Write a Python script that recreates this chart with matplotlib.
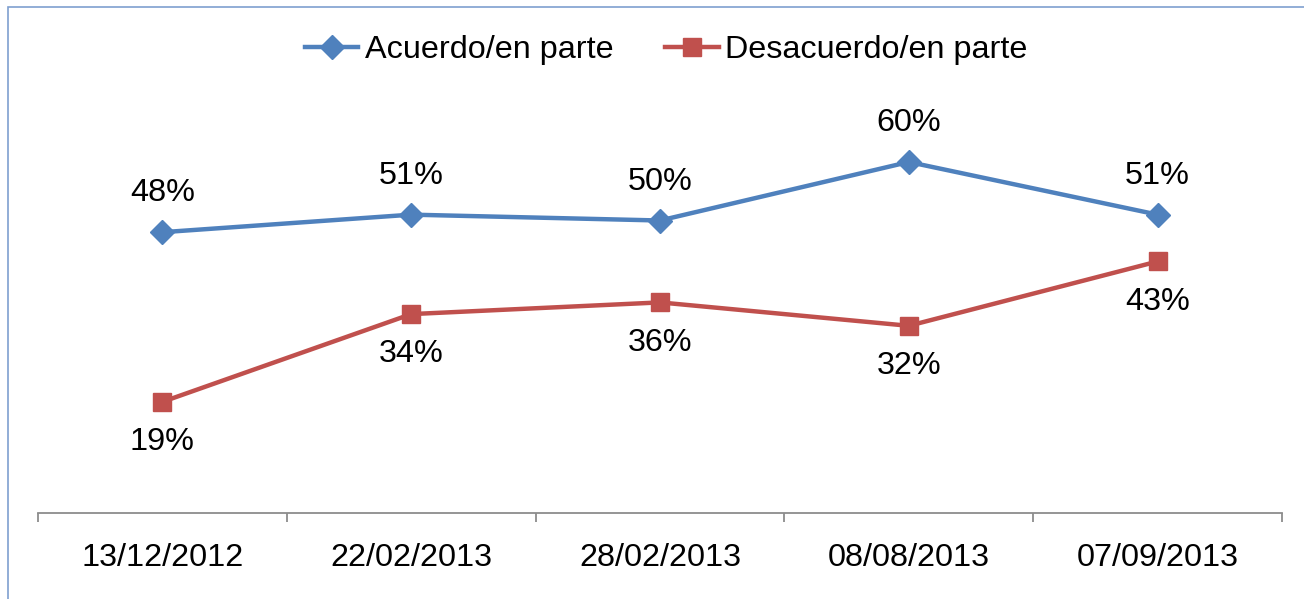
import matplotlib.pyplot as plt
import numpy as np
from matplotlib.patches import Rectangle

plt.rcParams['font.family'] = ['Liberation Sans', 'DejaVu Sans']

fechas = ['13/12/2012', '22/02/2013', '28/02/2013', '08/08/2013', '07/09/2013']
acuerdo = [48, 51, 50, 60, 51]
desacuerdo = [19, 34, 36, 32, 43]
series_names = ['Acuerdo/en parte', 'Desacuerdo/en parte']

blue = '#4F81BD'
red = '#C0504D'
fs = 23.3

fig = plt.figure(figsize=(13.04, 5.99), dpi=100)
ax = fig.add_axes([38 / 1304, 86 / 599, 1244 / 1304, 409.5 / 599])

# marco del grafico
fig.patches.append(Rectangle((8 / 1304, -0.1), 1.2, (599 - 7) / 599 + 0.1,
                             transform=fig.transFigure, fill=False,
                             edgecolor='#7F9FCF', linewidth=1.2))

x = np.arange(len(fechas))
ax.plot(x, acuerdo, color=blue, lw=3.2, marker='D', ms=12, label=series_names[0])
ax.plot(x, desacuerdo, color=red, lw=3.2, marker='s', ms=13, label=series_names[1])

for i in range(len(x)):
    ax.annotate(f'{acuerdo[i]}%', (x[i], acuerdo[i]), xytext=(0, 28),
                textcoords='offset points', ha='center', va='center', fontsize=fs)
    ax.annotate(f'{desacuerdo[i]}%', (x[i], desacuerdo[i]), xytext=(0, -29),
                textcoords='offset points', ha='center', va='center', fontsize=fs)

ax.set_xlim(-0.5, len(fechas) - 0.5)
ax.set_ylim(0, 70)
for s in ['top', 'right', 'left']:
    ax.spines[s].set_visible(False)
ax.spines['bottom'].set_color('#8C8C8C')
ax.spines['bottom'].set_linewidth(1.3)
ax.set_yticks([])

ax.set_xticks(np.arange(-0.5, len(fechas), 1))
ax.set_xticklabels([])
ax.tick_params(axis='x', which='major', direction='out', length=6.5, width=1.3, color='#8C8C8C')
ax.set_xticks(x, minor=True)
ax.set_xticklabels(fechas, minor=True, fontsize=fs)
ax.tick_params(axis='x', which='minor', length=0, pad=21.5)

ax.legend(loc='center', bbox_to_anchor=(0.505, (513 - 50) / 409.5),
          ncol=2, frameon=False, fontsize=fs, handlelength=1.65,
          handletextpad=0.2, columnspacing=1.6)

fig.savefig('out.png', dpi=100)
